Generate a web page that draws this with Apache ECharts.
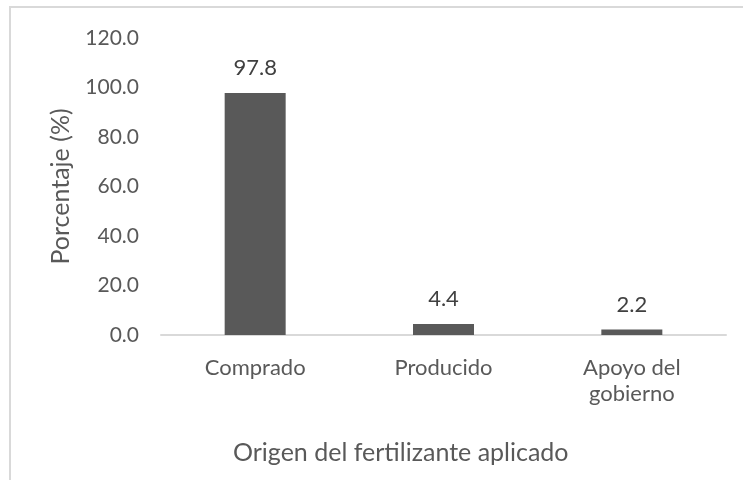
<!DOCTYPE html>
<html>
<head>
<meta charset="utf-8">
<script src="https://cdn.jsdelivr.net/npm/echarts@6/dist/echarts.min.js"></script>
<style>
  html, body { margin: 0; padding: 0; background: #fff; }
  #chart { width: 743px; height: 480px; }
</style>
</head>
<body>
<div id="chart"></div>
<script>
const categories = ['Comprado', 'Producido', 'Apoyo del gobierno']
const values = [97.8, 4.4, 2.2]
const yTicks = { min: 0, max: 120, interval: 20 }

const fontFamily = 'Lato, "Open Sans", sans-serif'
const chart = echarts.init(document.getElementById('chart'))

const option = {
  backgroundColor: '#fff',
  grid: { left: 161, right: 17, top: 38, bottom: 145 },
  graphic: [
    {
      type: 'rect',
      shape: { x: 10, y: 7, width: 800, height: 520 },
      style: { fill: 'none', stroke: '#d9d9d9', lineWidth: 2 },
      silent: true,
      z: -1
    },
    {
      type: 'text',
      left: 233,
      top: 440,
      style: {
        text: 'Origen del fertilizante aplicado',
        fill: '#595959',
        font: '25px ' + fontFamily
      }
    }
  ],
  xAxis: {
    type: 'category',
    data: categories,
    axisLine: { lineStyle: { color: '#d9d9d9', width: 2 } },
    axisTick: { show: false },
    axisLabel: {
      color: '#595959',
      fontSize: 22,
      fontFamily: fontFamily,
      lineHeight: 26,
      margin: 20,
      formatter: v => v.replace('Apoyo del ', 'Apoyo del\n')
    }
  },
  yAxis: {
    type: 'value',
    min: yTicks.min,
    max: yTicks.max,
    interval: yTicks.interval,
    name: 'Porcentaje (%)',
    nameLocation: 'middle',
    nameGap: 88,
    nameTextStyle: { color: '#595959', fontSize: 25, fontFamily: fontFamily },
    axisLine: { show: false },
    axisTick: { show: false },
    splitLine: { show: false },
    axisLabel: {
      color: '#595959',
      fontSize: 21,
      fontFamily: fontFamily,
      margin: 22,
      formatter: v => v.toFixed(1)
    }
  },
  series: [
    {
      type: 'bar',
      data: values,
      barWidth: 61,
      itemStyle: { color: '#595959' },
      label: {
        show: true,
        position: 'top',
        distance: 14,
        color: '#404040',
        fontSize: 22,
        fontFamily: fontFamily,
        formatter: p => p.value.toFixed(1)
      }
    }
  ]
}
chart.setOption(option)
</script>
</body>
</html>
